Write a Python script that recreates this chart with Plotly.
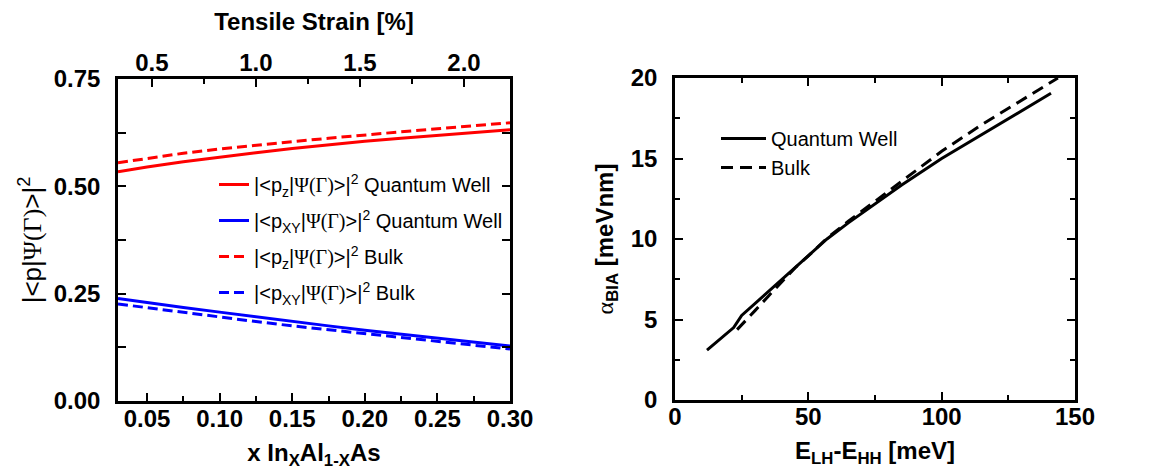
import plotly.graph_objects as go

# ---------------- data: left panel ----------------
x_frac = [0.03, 0.05, 0.075, 0.10, 0.125, 0.15, 0.175, 0.20, 0.225, 0.25, 0.275, 0.30]
pz_qw = [0.534, 0.545, 0.557, 0.568, 0.578, 0.588, 0.597, 0.605, 0.612, 0.619, 0.626, 0.632]
pxy_qw = [0.239, 0.229, 0.218, 0.207, 0.196, 0.185, 0.175, 0.165, 0.156, 0.147, 0.137, 0.128]
pz_bulk = [0.555, 0.565, 0.577, 0.587, 0.596, 0.604, 0.612, 0.620, 0.627, 0.634, 0.641, 0.648]
pxy_bulk = [0.226, 0.217, 0.206, 0.195, 0.185, 0.175, 0.166, 0.157, 0.148, 0.139, 0.130, 0.121]
strain_range = [0.337, 2.221]
strain_ticks = [0.5, 1.0, 1.5, 2.0]

# ---------------- data: right panel ----------------
e_qw = [12, 16, 20, 22, 25, 30, 35, 40, 45, 50, 57, 65, 75, 85, 100, 110, 120, 130, 141]
a_qw = [3.1, 3.66, 4.22, 4.5, 5.25, 6.0, 6.75, 7.5, 8.25, 8.95, 10.0, 11.0, 12.2, 13.35, 15.0, 16.0, 17.0, 17.95, 19.05]
e_bulk = [23.3, 27, 30, 35, 40, 45, 50, 57, 65, 75, 85, 100, 115, 130, 143.6]
a_bulk = [4.37, 5.0, 5.55, 6.45, 7.35, 8.2, 8.95, 10.05, 11.1, 12.35, 13.6, 15.45, 17.1, 18.65, 20.0]

W, H = 1150, 470
FONT = "Liberation Sans"
SERIF = "Liberation Serif"
PSI = f"<span style='font-family:{SERIF}'>Ψ(Γ)</span>"

def lbl(sub, tail):
    return f"|&lt;p<sub>{sub}</sub>|{PSI}&gt;|<sup>2</sup> {tail}"

fig = go.Figure()
lw = 3
fig.add_trace(go.Scatter(x=x_frac, y=pz_qw, mode="lines", name=lbl("z", "Quantum Well"),
                         line=dict(color="#ff0000", width=lw), legend="legend", legendgroup="a"))
fig.add_trace(go.Scatter(x=x_frac, y=pxy_qw, mode="lines", name=lbl("XY", "Quantum Well"),
                         line=dict(color="#0000ff", width=lw), legend="legend", legendgroup="b"))
fig.add_trace(go.Scatter(x=x_frac, y=pz_bulk, mode="lines", name=lbl("z", "Bulk"),
                         line=dict(color="#ff0000", width=lw, dash="10px,5px"), legend="legend", legendgroup="c"))
fig.add_trace(go.Scatter(x=x_frac, y=pxy_bulk, mode="lines", name=lbl("XY", "Bulk"),
                         line=dict(color="#0000ff", width=lw, dash="10px,5px"), legend="legend", legendgroup="d"))
# invisible trace to activate top strain axis
fig.add_trace(go.Scatter(x=strain_ticks, y=[None] * len(strain_ticks), xaxis="x3", yaxis="y",
                         mode="lines", showlegend=False, hoverinfo="skip"))

fig.add_trace(go.Scatter(x=e_qw, y=a_qw, mode="lines", name="Quantum Well", xaxis="x2", yaxis="y2",
                         line=dict(color="black", width=lw), legend="legend2", legendgroup="e"))
fig.add_trace(go.Scatter(x=e_bulk, y=a_bulk, mode="lines", name="Bulk", xaxis="x2", yaxis="y2",
                         line=dict(color="black", width=lw, dash="12px,7px"), legend="legend2", legendgroup="f"))

tickfont = dict(family=FONT, size=24, color="black", weight="bold")
titlefont = dict(family=FONT, size=24, color="black", weight="bold")

common = dict(showline=True, linecolor="black", linewidth=2.5, ticks="inside", ticklen=8,
              tickwidth=2, tickcolor="black", showgrid=False, zeroline=False,
              tickfont=tickfont, automargin=False)

minor_style = dict(ticks="inside", ticklen=5, tickwidth=2, tickcolor="black")

fig.update_layout(
    width=W, height=H,
    margin=dict(l=0, r=0, t=0, b=0),
    paper_bgcolor="white", plot_bgcolor="white",
    font=dict(family=FONT, color="black"),
    xaxis=dict(domain=[110 / W, 502 / W], range=[0.03, 0.30], tick0=0.05, dtick=0.05,
               tickformat=".2f", mirror=True, anchor="y", ticklabelstandoff=-6,
               minor=dict(dtick=0.025, tick0=0.025, **minor_style),
               title=dict(text="x In<sub>X</sub>Al<sub>1-X</sub>As", font=titlefont, standoff=14),
               **common),
    xaxis3=dict(overlaying="x", side="top", anchor="y", range=strain_range,
                tickvals=strain_ticks, tickformat=".1f", ticklabelstandoff=-4,
                minor=dict(dtick=0.25, tick0=0.25, **minor_style),
                title=dict(text="Tensile Strain [%]", font=titlefont, standoff=18),
                **common),
    yaxis=dict(domain=[77 / H, 399 / H], range=[0, 0.75], dtick=0.25, tickformat=".2f",
               mirror="allticks", anchor="x", ticklabelstandoff=10,
               minor=dict(dtick=0.125, **minor_style),
               title=dict(text=f"|&lt;p|{PSI}&gt;|<sup>2</sup>",
                          font=dict(family=FONT, size=26, color="black"), standoff=5),
               **common),
    xaxis2=dict(domain=[667 / W, 1067 / W], range=[0, 150], dtick=50,
                mirror="allticks", anchor="y2", ticklabelstandoff=-7,
                minor=dict(dtick=25, **minor_style),
                title=dict(text="E<sub>LH</sub>-E<sub>HH</sub> [meV]", font=titlefont, standoff=14),
                **common),
    yaxis2=dict(domain=[78 / H, 400 / H], range=[0, 20], dtick=5,
                mirror="allticks", anchor="x2", ticklabelstandoff=10,
                minor=dict(dtick=2.5, **minor_style),
                title=dict(text=f"<span style='font-family:{SERIF};font-weight:normal'>α</span><sub>BIA</sub> [meVnm]",
                           font=titlefont, standoff=11),
                **common),
    legend=dict(x=206 / W, y=(H - 157) / H, xanchor="left", yanchor="top",
                bgcolor="rgba(0,0,0,0)", font=dict(family=FONT, size=20, color="black"),
                tracegroupgap=7, itemwidth=30),
    legend2=dict(x=708 / W, y=(H - 111) / H, xanchor="left", yanchor="top",
                 bgcolor="rgba(0,0,0,0)", font=dict(family=FONT, size=20, color="black"),
                 tracegroupgap=0, itemwidth=45),
    showlegend=True,
)

fig.write_html("out.html")
